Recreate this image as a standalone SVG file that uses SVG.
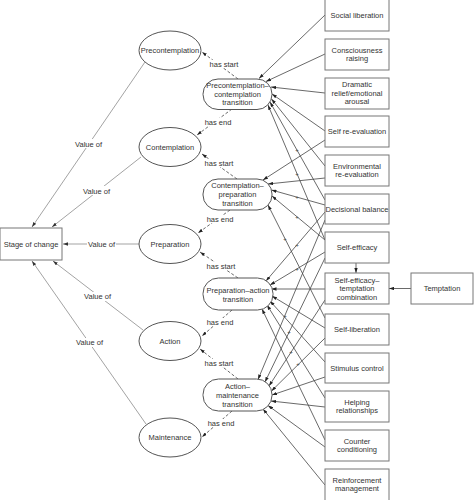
<svg xmlns="http://www.w3.org/2000/svg" width="474" height="500" viewBox="0 0 474 500">
<defs>
<marker id="a" viewBox="0 0 6 4" refX="6" refY="2" markerWidth="5" markerHeight="3.4" orient="auto" markerUnits="userSpaceOnUse"><path d="M0,0 L6,2 L0,4 z" fill="#222"/></marker>
<marker id="g" viewBox="0 0 6 4" refX="6" refY="2" markerWidth="5" markerHeight="3.4" orient="auto" markerUnits="userSpaceOnUse"><path d="M0,0 L6,2 L0,4 z" fill="#333"/></marker>
<style>
text{font-family:"Liberation Sans",Arial,sans-serif;font-size:7.5px;fill:#333;text-anchor:middle}
.box{fill:#fff;stroke:#777;stroke-width:1}
.ell{fill:#fff;stroke:#555;stroke-width:1}
.tr{fill:#fff;stroke:#555;stroke-width:1}
.ln{stroke:#444;stroke-width:0.8;fill:none;marker-end:url(#a)}
.vo{stroke:#999;stroke-width:0.9;fill:none;marker-end:url(#g)}
.ds{stroke:#444;stroke-width:0.8;fill:none;stroke-dasharray:3,2;marker-end:url(#a)}
.lbg{fill:#fff}
.plus{font-size:6px;fill:#444}
</style>
</defs>
<rect width="474" height="500" fill="#fff"/>

<g id="connectors">
<!-- Value of -->
<line class="vo" x1="145" y1="62" x2="32" y2="227"/>
<line class="vo" x1="141" y1="157" x2="52" y2="227"/>
<line class="vo" x1="139" y1="244" x2="63" y2="244"/>
<line class="vo" x1="143" y1="330" x2="53" y2="261"/>
<line class="vo" x1="146" y1="424" x2="32" y2="261"/>
<!-- has start / has end -->
<line class="ds" x1="238" y1="79" x2="202" y2="52"/>
<line class="ds" x1="232" y1="109" x2="197" y2="135"/>
<line class="ds" x1="237" y1="179" x2="202" y2="154"/>
<line class="ds" x1="230" y1="210" x2="198" y2="233"/>
<line class="ds" x1="238" y1="278" x2="200" y2="252"/>
<line class="ds" x1="232" y1="310" x2="202" y2="336"/>
<line class="ds" x1="238" y1="379" x2="200" y2="349"/>
<line class="ds" x1="232" y1="411" x2="202" y2="437"/>
<!-- to Precontemplation–contemplation transition -->
<line class="ln" x1="325" y1="15" x2="259" y2="78.5"/>
<line class="ln" x1="325" y1="54" x2="266" y2="81.5"/>
<line class="ln" x1="325" y1="93" x2="271" y2="87"/>
<line class="ln" x1="325" y1="131" x2="272" y2="94"/>
<line class="ln" x1="325" y1="166" x2="271.5" y2="99"/>
<line class="ln" x1="325" y1="200" x2="270" y2="102"/>
<line class="ln" x1="325" y1="240" x2="268" y2="105"/>
<!-- to Contemplation–preparation transition -->
<line class="ln" x1="325" y1="140" x2="263" y2="180"/>
<line class="ln" x1="325" y1="178" x2="268" y2="184"/>
<line class="ln" x1="325" y1="205" x2="271.5" y2="190"/>
<line class="ln" x1="325" y1="240" x2="272" y2="196"/>
<line class="ln" x1="325" y1="318" x2="268" y2="205"/>
<!-- to Preparation–action transition -->
<line class="ln" x1="325" y1="212" x2="266" y2="281"/>
<line class="ln" x1="325" y1="252" x2="270" y2="285"/>
<line class="ln" x1="325" y1="289" x2="271.5" y2="289"/>
<line class="ln" x1="325" y1="328" x2="272" y2="296"/>
<line class="ln" x1="325" y1="362" x2="270" y2="301"/>
<line class="ln" x1="325" y1="398" x2="267" y2="305"/>
<line class="ln" x1="325" y1="440" x2="262" y2="309"/>
<!-- to Action–maintenance transition -->
<line class="ln" x1="325" y1="220" x2="258" y2="379.5"/>
<line class="ln" x1="325" y1="258" x2="265" y2="382"/>
<line class="ln" x1="325" y1="300" x2="269" y2="386"/>
<line class="ln" x1="325" y1="338" x2="271.5" y2="391"/>
<line class="ln" x1="325" y1="377" x2="272" y2="395"/>
<line class="ln" x1="325" y1="407" x2="271" y2="401"/>
<line class="ln" x1="325" y1="447" x2="268" y2="405.5"/>
<line class="ln" x1="325" y1="485" x2="263" y2="409"/>
<!-- self-efficacy / temptation to combination -->
<line class="ln" x1="356" y1="263" x2="356" y2="273"/>
<line class="ln" x1="411" y1="288.5" x2="389" y2="288.5"/>
<!-- plus markers -->
<text class="plus" x="297" y="152">+</text>
<text class="plus" x="297" y="176">+</text>
<text class="plus" x="297" y="199">+</text>
<text class="plus" x="297" y="219">+</text>
<text class="plus" x="285" y="241">+</text>
<text class="plus" x="297" y="247">+</text>
<text class="plus" x="297" y="271">+</text>
<text class="plus" x="285" y="318">+</text>
<text class="plus" x="289" y="334">+</text>
<text class="plus" x="291" y="354">+</text>
<text class="plus" x="298" y="366">+</text>
<!-- labels -->
<rect class="lbg" x="74" y="139" width="29" height="9"/><text x="88.5" y="146.5">Value of</text>
<rect class="lbg" x="82" y="186" width="29" height="9"/><text x="96.5" y="193.5">Value of</text>
<rect class="lbg" x="87" y="240" width="29" height="9"/><text x="101.5" y="246.7">Value of</text>
<rect class="lbg" x="83" y="292" width="29" height="9"/><text x="97.5" y="299">Value of</text>
<rect class="lbg" x="75" y="338" width="29" height="9"/><text x="89.5" y="345">Value of</text>
<rect class="lbg" x="210" y="60" width="28" height="8"/><text x="224" y="66.5">has start</text>
<rect class="lbg" x="206" y="118" width="24" height="8"/><text x="218" y="124.5">has end</text>
<rect class="lbg" x="205" y="159" width="28" height="8"/><text x="219" y="165.5">has start</text>
<rect class="lbg" x="208" y="215" width="24" height="8"/><text x="220" y="221.5">has end</text>
<rect class="lbg" x="207" y="262" width="28" height="8"/><text x="221" y="268.5">has start</text>
<rect class="lbg" x="208" y="318" width="24" height="8"/><text x="220" y="324.5">has end</text>
<rect class="lbg" x="205" y="359" width="28" height="8"/><text x="219" y="365.5">has start</text>
<rect class="lbg" x="209" y="419" width="24" height="8"/><text x="221" y="425.5">has end</text>
</g>

<g id="stage"><rect class="box" x="0" y="228" width="62" height="32"/><text x="31" y="246.7">Stage of change</text></g>

<g id="precontemplation"><ellipse class="ell" cx="170" cy="50.5" rx="31" ry="19.5"/><text x="170" y="53.2">Precontemplation</text></g>
<g id="contemplation"><ellipse class="ell" cx="170" cy="147" rx="31" ry="19.5"/><text x="170" y="149.7">Contemplation</text></g>
<g id="preparation"><ellipse class="ell" cx="170" cy="244" rx="31" ry="19.5"/><text x="170" y="246.7">Preparation</text></g>
<g id="action"><ellipse class="ell" cx="170" cy="341" rx="31" ry="19.5"/><text x="170" y="343.7">Action</text></g>
<g id="maintenance"><ellipse class="ell" cx="170" cy="437.5" rx="31" ry="19.5"/><text x="170" y="440.2">Maintenance</text></g>

<g id="t-pc"><rect class="tr" x="203" y="79" width="69" height="30.5" rx="15" ry="15"/><text x="237.5" y="87.7">Precontemplation–</text><text x="237.5" y="96.5">contemplation</text><text x="237.5" y="105.3">transition</text></g>
<g id="t-cp"><rect class="tr" x="203" y="179" width="69" height="31" rx="15" ry="15"/><text x="237.5" y="188">Contemplation–</text><text x="237.5" y="197">preparation</text><text x="237.5" y="206">transition</text></g>
<g id="t-pa"><rect class="tr" x="203" y="278" width="70" height="32" rx="15.5" ry="15.5"/><text x="238" y="292.5">Preparation–action</text><text x="238" y="301.5">transition</text></g>
<g id="t-am"><rect class="tr" x="203" y="379" width="69" height="32" rx="15.5" ry="15.5"/><text x="237.5" y="388.5">Action–</text><text x="237.5" y="397.5">maintenance</text><text x="237.5" y="406.5">transition</text></g>

<g id="b-social"><rect class="box" x="325" y="-1" width="64" height="32"/><text x="357" y="17.7">Social liberation</text></g>
<g id="b-conscious"><rect class="box" x="325" y="39" width="64" height="31"/><text x="357" y="52.5">Consciousness</text><text x="357" y="61.3">raising</text></g>
<g id="b-dramatic"><rect class="box" x="325" y="78" width="64" height="31"/><text x="357" y="87">Dramatic</text><text x="357" y="95.7">relief/emotional</text><text x="357" y="104.4">arousal</text></g>
<g id="b-selfre"><rect class="box" x="325" y="116" width="64" height="31"/><text x="357" y="134.2">Self re-evaluation</text></g>
<g id="b-env"><rect class="box" x="325" y="155" width="64" height="31"/><text x="357" y="168.5">Environmental</text><text x="357" y="177.3">re-evaluation</text></g>
<g id="b-decisional"><rect class="box" x="325" y="194" width="64" height="30"/><text x="357" y="211.7">Decisional balance</text></g>
<g id="b-selfefficacy"><rect class="box" x="325" y="232" width="64" height="31"/><text x="357" y="250.2">Self-efficacy</text></g>
<g id="b-combination"><rect class="box" x="325" y="273" width="64" height="31"/><text x="357" y="282.5">Self-efficacy–</text><text x="357" y="291.2">temptation</text><text x="357" y="299.9">combination</text></g>
<g id="b-selflib"><rect class="box" x="325" y="314" width="64" height="31"/><text x="357" y="332.2">Self-liberation</text></g>
<g id="b-stimulus"><rect class="box" x="325" y="353" width="64" height="30"/><text x="357" y="370.7">Stimulus control</text></g>
<g id="b-helping"><rect class="box" x="325" y="391" width="64" height="31"/><text x="357" y="404.5">Helping</text><text x="357" y="413.3">relationships</text></g>
<g id="b-counter"><rect class="box" x="325" y="430" width="64" height="31"/><text x="357" y="443.5">Counter</text><text x="357" y="452.3">conditioning</text></g>
<g id="b-reinforcement"><rect class="box" x="325" y="469" width="64" height="32"/><text x="357" y="482.5">Reinforcement</text><text x="357" y="491.3">management</text></g>
<g id="b-temptation"><rect class="box" x="411" y="273" width="62" height="31"/><text x="442" y="291.2">Temptation</text></g>
</svg>
